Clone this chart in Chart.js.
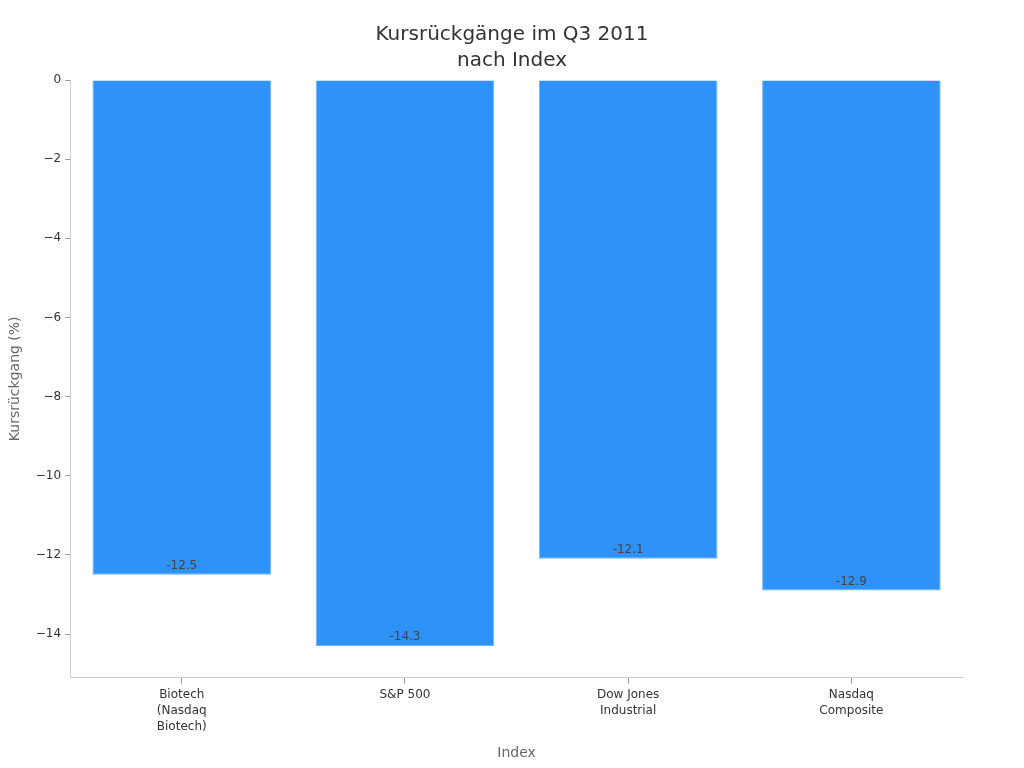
<!DOCTYPE html>
<html lang="de">
<head>
<meta charset="utf-8">
<title>Kursrückgänge im Q3 2011</title>
<script src="https://cdn.jsdelivr.net/npm/chart.js@4.4.1/dist/chart.umd.min.js"></script>
<style>
  html, body { margin: 0; padding: 0; background: #fff; }
  #wrap { width: 1024px; height: 768px; }
</style>
</head>
<body>
<div id="wrap"><canvas id="chartKurs"></canvas></div>
<script>
// Daten
const titel = ['Kursrückgänge im Q3 2011', 'nach Index'];
const indizes = [
    ['Biotech', '(Nasdaq', 'Biotech)'],
    'S&P 500',
    ['Dow Jones', 'Industrial'],
    ['Nasdaq', 'Composite']
];
const rueckgang = [-12.5, -14.3, -12.1, -12.9];
const yTicks = [0, -2, -4, -6, -8, -10, -12, -14];

Chart.defaults.font.family = '"DejaVu Sans", sans-serif';

// Titel mittig über der ganzen Fläche
const titelPlugin = {
    id: 'titelPlugin',
    afterDraw(chart) {
        const ctx = chart.ctx;
        ctx.save();
        ctx.font = '20px "DejaVu Sans", sans-serif';
        ctx.fillStyle = '#333';
        ctx.textAlign = 'center';
        ctx.textBaseline = 'middle';
        titel.forEach((t, i) => ctx.fillText(t, chart.width / 2, 35 + i * 26));
        ctx.restore();
    }
};

// Werte am Balkenende anzeigen
const wertLabels = {
    id: 'wertLabels',
    afterDatasetsDraw(chart) {
        const ctx = chart.ctx;
        const meta = chart.getDatasetMeta(0);
        ctx.save();
        ctx.font = '12px "DejaVu Sans", sans-serif';
        ctx.fillStyle = '#444';
        ctx.textAlign = 'center';
        ctx.textBaseline = 'middle';
        meta.data.forEach((bar, i) => {
            ctx.fillText(String(rueckgang[i]), bar.x, bar.y - 9);
        });
        ctx.restore();
    }
};

new Chart(document.getElementById('chartKurs'), {
    type: 'bar',
    data: {
        labels: indizes,
        datasets: [{
            label: 'Kursrückgang (%)',
            data: rueckgang,
            backgroundColor: '#2f92f9',
            borderColor: '#6cb4ff',
            borderWidth: 1,
            barPercentage: 0.8,
            categoryPercentage: 1.0
        }]
    },
    options: {
        responsive: true,
        maintainAspectRatio: false,
        animation: false,
        layout: { padding: { left: 3, right: 61, top: 80, bottom: 2 } },
        plugins: {
            legend: { display: false },
            tooltip: { enabled: false },
            title: { display: false }
        },
        scales: {
            x: {
                border: { color: '#ccc' },
                grid: { drawOnChartArea: false, drawTicks: true, tickLength: 6, color: '#999', offset: false },
                ticks: { color: '#333', font: { size: 12, lineHeight: 1.35 }, maxRotation: 0, padding: 3 },
                title: { display: true, text: 'Index', color: '#666', font: { size: 14 }, padding: { top: 7 } }
            },
            y: {
                min: -15.1,
                max: 0,
                border: { color: '#ccc' },
                grid: { drawOnChartArea: false, drawTicks: true, tickLength: 5, color: '#999' },
                afterBuildTicks: (scale) => {
                    scale.ticks = yTicks.map(v => ({ value: v }));
                },
                ticks: {
                    color: '#333',
                    font: { size: 12 },
                    padding: 4,
                    callback: (v) => String(v).replace('-', '\u2212')
                },
                title: { display: true, text: 'Kursrückgang (%)', color: '#666', font: { size: 14 }, padding: { bottom: 8 } }
            }
        }
    },
    plugins: [titelPlugin, wertLabels]
});
</script>
</body>
</html>
